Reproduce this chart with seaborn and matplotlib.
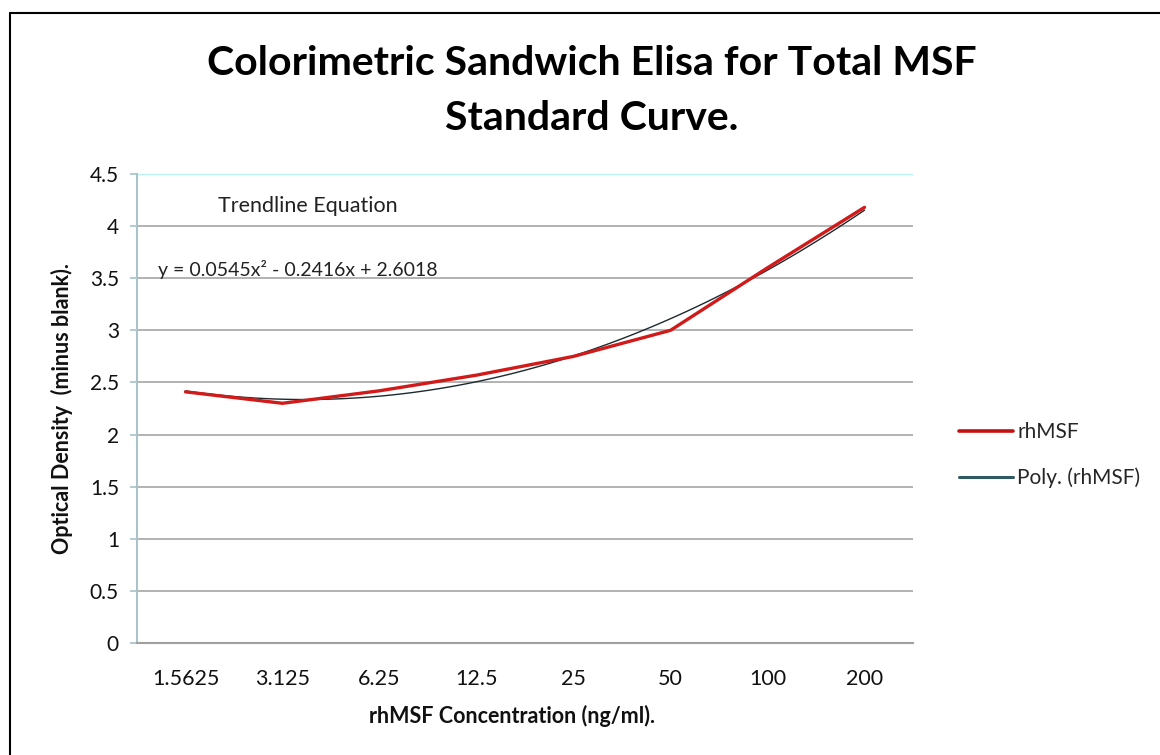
import matplotlib
matplotlib.use("Agg")
import matplotlib.pyplot as plt
import seaborn as sns
import numpy as np
import pandas as pd
from matplotlib.lines import Line2D

categories = ["1.5625", "3.125", "6.25", "12.5", "25", "50", "100", "200"]
od_values = [2.41, 2.30, 2.42, 2.57, 2.75, 3.00, 3.60, 4.18]
y_ticks = [0, 0.5, 1, 1.5, 2, 2.5, 3, 3.5, 4, 4.5]
y_tick_labels = ["0", "0.5", "1", "1.5", "2", "2.5", "3", "3.5", "4", "4.5"]

sns.set_theme(style="white")
plt.rcParams['font.family'] = ['Lato', 'DejaVu Sans']

df = pd.DataFrame({"pos": np.arange(len(categories)), "od": od_values})

fig = plt.figure(figsize=(11.6, 7.55), dpi=100)
ax = fig.add_axes([137/1160, 1-643/755, 776/1160, 469/755])

# trendline (2nd-order polynomial fit)
sns.regplot(data=df, x="pos", y="od", order=2, ci=None, scatter=False,
            truncate=True, ax=ax, line_kws=dict(color="#1c2a30", lw=1.0, zorder=3))
# data line
sns.lineplot(data=df, x="pos", y="od", ax=ax, color="#d11a1a", lw=2.4, zorder=4)

ax.set_xlim(-0.5, 7.5)
ax.set_ylim(0, 4.5)
ax.set_xticks(range(len(categories)))
ax.set_xticklabels(categories, fontsize=15.5, color="#111111")
ax.set_yticks(y_ticks)
ax.set_yticklabels(y_tick_labels, fontsize=15, color="#111111")
for yv in y_ticks[1:-1]:
    ax.axhline(yv, color="#a6a6a6", lw=1.2, zorder=1)
ax.axhline(4.5, color="#b8f2f6", lw=1.5, zorder=1)

for s in ["top", "right"]:
    ax.spines[s].set_visible(False)
ax.spines["left"].set_color("#a9c4c8")
ax.spines["left"].set_linewidth(1.5)
ax.spines["bottom"].set_color("#a0a0a0")
ax.spines["bottom"].set_linewidth(1.5)
ax.tick_params(axis="y", which="major", left=True, length=5, color="#a9c4c8", pad=8)
ax.tick_params(axis="x", which="major", bottom=False, pad=13)

ax.set_xlabel("rhMSF Concentration (ng/ml).", fontsize=15.5, fontweight="bold",
              color="#111111")
ax.xaxis.set_label_coords(0.483, -0.133)
ax.set_ylabel("Optical Density  (minus blank).", fontsize=15.5, fontweight="bold",
              color="#111111")
ax.yaxis.set_label_coords(-0.083, 0.5)

ax.text(0.104, 0.932, "Trendline Equation", transform=ax.transAxes, fontsize=15.5,
        va="center", ha="left", color="#222222")
ax.text(0.027, 0.797, "y = 0.0545x² - 0.2416x + 2.6018", transform=ax.transAxes,
        fontsize=14, va="center", ha="left", color="#222222")

fig.text(0.51, 1-91/755, "Colorimetric Sandwich Elisa for Total MSF\nStandard Curve.",
         ha="center", va="center", fontsize=29.5, fontweight="bold", linespacing=1.6,
         color="#000000")

handles = [Line2D([], [], color="#c41010", lw=2.6),
           Line2D([], [], color="#2f5a60", lw=2.2)]
fig.legend(handles, ["rhMSF", "Poly. (rhMSF)"], loc="center left",
           bbox_to_anchor=(940/1160, 1-455/755), frameon=False, fontsize=15,
           handlelength=2.6, handletextpad=0.2, labelspacing=1.2)

# outer frame: top and left edges only
fig.add_artist(Line2D([10/1160, 1.0], [1-12.5/755, 1-12.5/755], transform=fig.transFigure,
                      color="black", lw=1.5))
fig.add_artist(Line2D([10/1160, 10/1160], [0.0, 1-12.5/755], transform=fig.transFigure,
                      color="black", lw=1.5))

fig.savefig("out.png", dpi=100)
